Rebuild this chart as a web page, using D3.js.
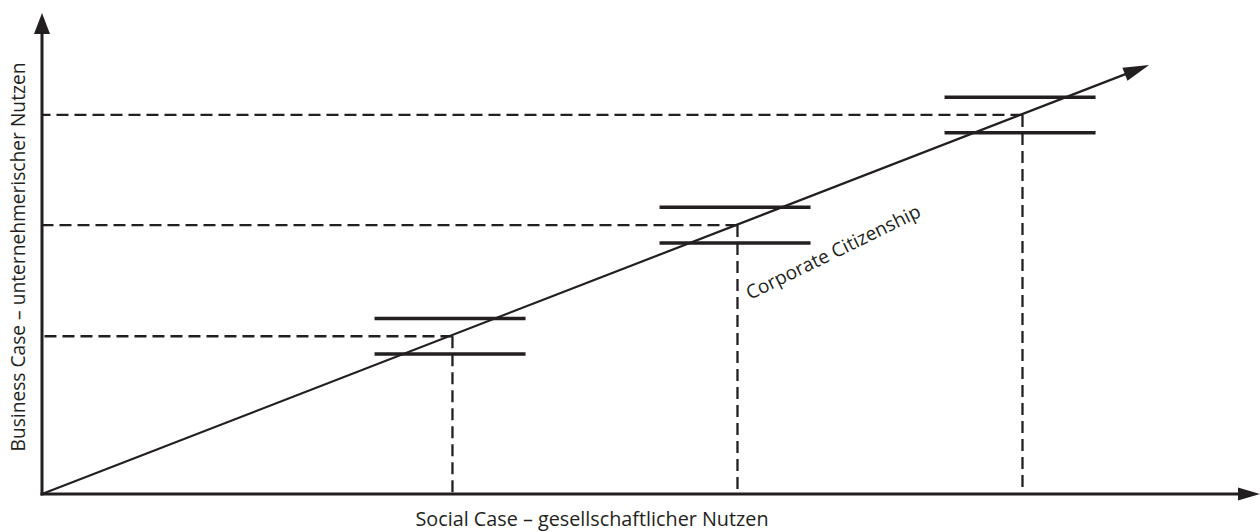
<!DOCTYPE html>
<html>
<head>
<meta charset="utf-8">
<script src="https://cdn.jsdelivr.net/npm/d3@7"></script>
<style>
  body { margin: 0; background: #fff; }
  text { font-family: "Open Sans", "Noto Sans", sans-serif; fill: #231f20; }
</style>
</head>
<body>
<svg width="1260" height="532"></svg>
<script>
// values in percent of the axis length
var social = [33.7, 57.1, 80.5]
var business = [32.8, 55.9, 78.8]
var socialLow = [27.3, 50.7, 74.1]
var socialHigh = [39.7, 63.1, 86.5]
var businessLow = [29.1, 52.2, 75.1]
var businessHigh = [36.5, 59.6, 82.5]
var lineEnd = [90.9, 89.2]
var axisMax = 100

var xLabel = "Social Case \u2013 gesellschaftlicher Nutzen"
var yLabel = "Business Case \u2013 unternehmerischer Nutzen"
var lineLabel = "Corporate Citizenship"

var ink = "#231f20"
var svg = d3.select("svg")

var x = d3.scaleLinear().domain([0, axisMax]).range([42, 1260])
var y = d3.scaleLinear().domain([0, axisMax]).range([494, 13])

var pts = social.map((s, i) => ({
	x: s, y: business[i],
	x0: socialLow[i], x1: socialHigh[i],
	y0: businessLow[i], y1: businessHigh[i]
}))

// arrow helper: line from a to b with filled head at b
function arrow(x1, y1, x2, y2, len, half, width) {
	var ang = Math.atan2(y2 - y1, x2 - x1)
	var bx = x2 - len * Math.cos(ang), by = y2 - len * Math.sin(ang)
	svg.append("line")
		.attr("x1", x1).attr("y1", y1)
		.attr("x2", bx + 2 * Math.cos(ang)).attr("y2", by + 2 * Math.sin(ang))
		.attr("stroke", ink).attr("stroke-width", width)
	var px = -Math.sin(ang) * half, py = Math.cos(ang) * half
	svg.append("path")
		.attr("d", "M" + x2 + "," + y2 + "L" + (bx + px) + "," + (by + py) + "L" + (bx - px) + "," + (by - py) + "Z")
		.attr("fill", ink)
}

// dashed guides
var guides = svg.append("g")
	.attr("stroke", ink).attr("stroke-width", 2.3).attr("stroke-dasharray", "12,6")
guides.selectAll("line.h").data(pts).enter().append("line")
	.attr("class", "h")
	.attr("x1", d => x(d.x)).attr("x2", x(0))
	.attr("y1", d => y(d.y)).attr("y2", d => y(d.y))
guides.selectAll("line.v").data(pts).enter().append("line")
	.attr("class", "v")
	.attr("x1", d => x(d.x)).attr("x2", d => x(d.x))
	.attr("y1", d => y(d.y)).attr("y2", y(0))

// bars above and below each point
var bars = svg.append("g").attr("stroke", ink).attr("stroke-width", 3.5)
bars.selectAll("line.top").data(pts).enter().append("line")
	.attr("class", "top")
	.attr("x1", d => x(d.x0)).attr("x2", d => x(d.x1))
	.attr("y1", d => y(d.y1)).attr("y2", d => y(d.y1))
bars.selectAll("line.bot").data(pts).enter().append("line")
	.attr("class", "bot")
	.attr("x1", d => x(d.x0)).attr("x2", d => x(d.x1))
	.attr("y1", d => y(d.y0)).attr("y2", d => y(d.y0))

// axes
arrow(x(0), y(0) + 1.5, x(0), y(axisMax), 21, 8, 3)
arrow(x(0) - 1.5, y(0), x(axisMax), y(0), 22, 6.5, 3)

// diagonal
arrow(x(0), y(0), x(lineEnd[0]), y(lineEnd[1]), 26, 7, 2.2)

// labels
svg.append("text")
	.attr("x", 592).attr("y", 526)
	.attr("text-anchor", "middle")
	.style("font-size", "19.8px")
	.text(xLabel)

svg.append("text")
	.attr("transform", "translate(25,257) rotate(-90)")
	.attr("text-anchor", "middle")
	.style("font-size", "19.2px")
	.text(yLabel)

svg.append("text")
	.attr("transform", "translate(750,300) rotate(-26)")
	.style("font-size", "19px")
	.text(lineLabel)
</script>
</body>
</html>
